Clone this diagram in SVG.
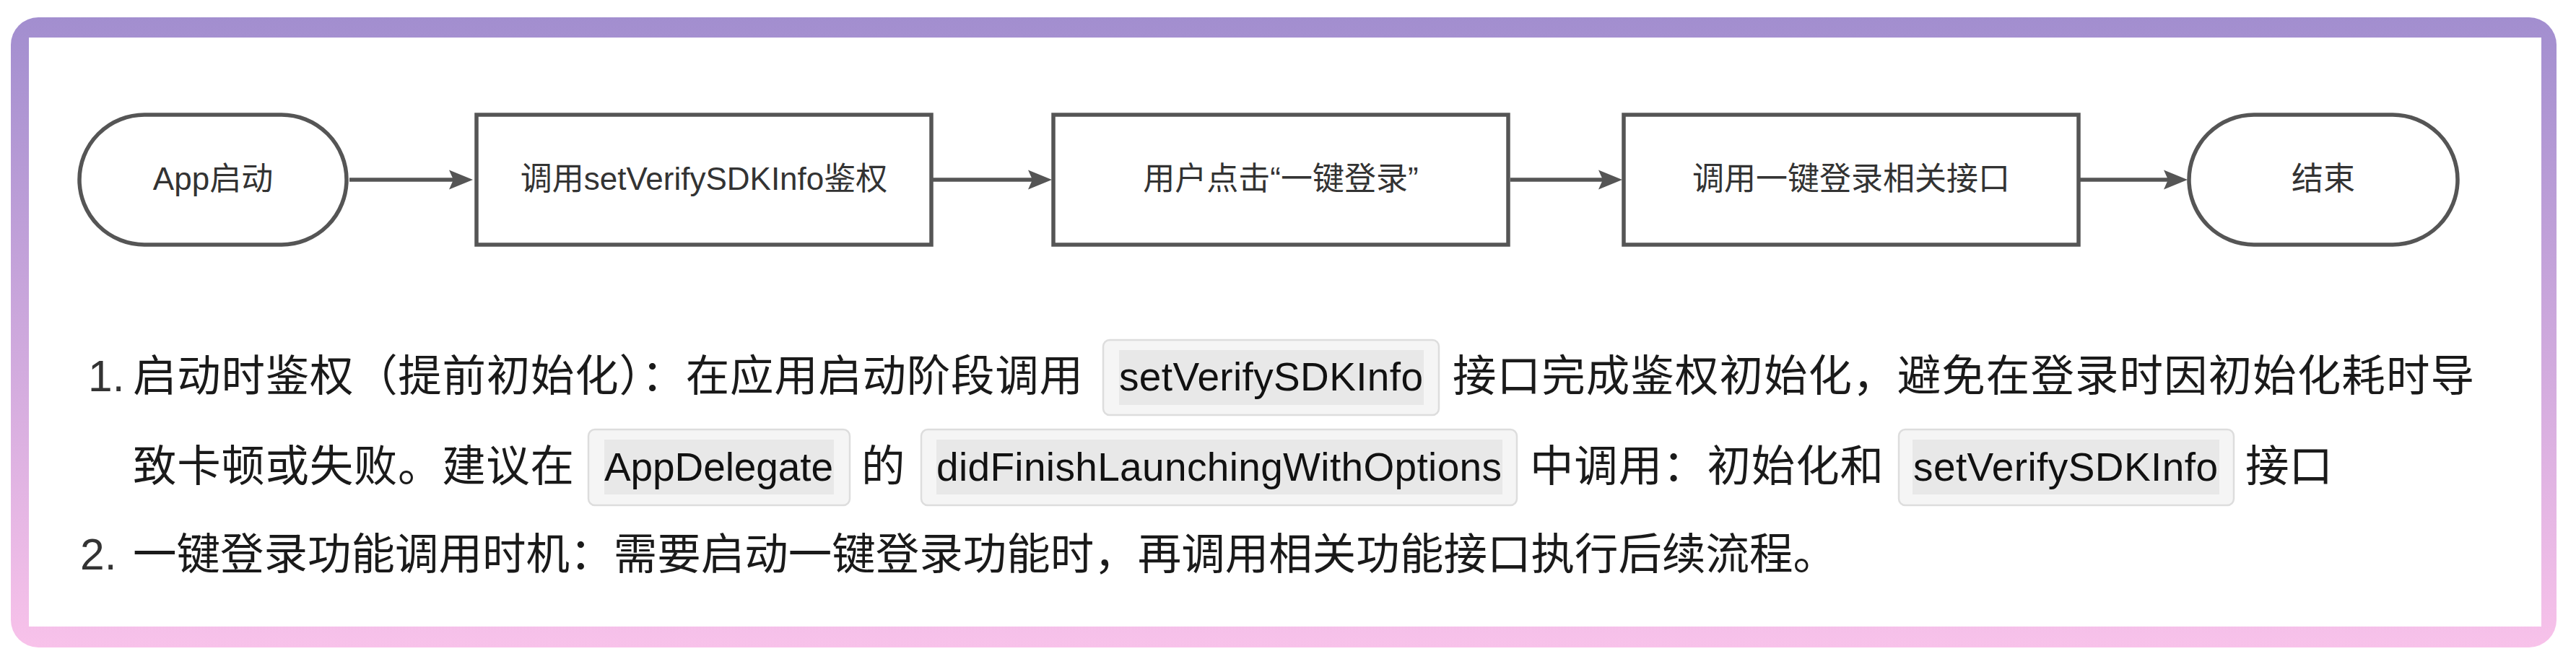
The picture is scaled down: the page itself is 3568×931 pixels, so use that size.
<svg xmlns="http://www.w3.org/2000/svg" width="3568" height="931" viewBox="0 0 3568 931">
  <style>
    .shape { fill: #ffffff; stroke: #555555; stroke-width: 5.5; }
    .lbl { font-family: "Liberation Sans", "Noto Sans CJK SC", sans-serif; font-size: 44px; fill: #333333; text-anchor: middle; }
    .conn { fill: none; stroke: #555555; stroke-width: 5.5; marker-end: url(#ah); }
    .para { font-family: "Liberation Sans", "Noto Sans CJK SC", sans-serif; font-size: 60.5px; fill: #1a1a1a; }
    .num { font-family: "Liberation Sans", "Noto Sans CJK SC", sans-serif; font-size: 60.5px; fill: #333333; }
    .codeOuter { fill: #f5f5f5; stroke: #dddddd; stroke-width: 2.5; }
    .codeInner { fill: #e8e8e8; }
    .code { font-family: "Liberation Sans", sans-serif; font-size: 55px; fill: #111111; }
  </style>
  <defs>
    <linearGradient id="frameGrad" x1="0" y1="0" x2="0" y2="1">
      <stop offset="0" stop-color="#A28ECF"/>
      <stop offset="1" stop-color="#F8C2EA"/>
    </linearGradient>
    <marker id="ah" markerUnits="userSpaceOnUse" markerWidth="34" markerHeight="28" refX="10" refY="13.5" orient="auto" overflow="visible">
      <path d="M0,0 L33,13.5 L0,27 L6,13.5 Z" fill="#555555"/>
    </marker>
  </defs>

  <rect x="0" y="0" width="3568" height="931" fill="#ffffff"/>

  <g id="frame">
    <rect x="15" y="24" width="3526" height="873" rx="38" ry="38" fill="url(#frameGrad)"/>
    <rect x="40" y="52" width="3480" height="816" fill="#ffffff"/>
  </g>

  <g id="connectors">
    <path class="conn" d="M484,249 H632"/>
    <path class="conn" d="M1292,249 H1434"/>
    <path class="conn" d="M2092,249 H2224"/>
    <path class="conn" d="M2881,249 H3007"/>
  </g>

  <g id="node-start">
    <rect class="shape" x="110" y="159" width="370" height="180" rx="90" ry="90"/>
    <text class="lbl" x="295" y="263">App启动</text>
  </g>
  <g id="node-auth">
    <rect class="shape" x="660" y="159" width="630" height="180"/>
    <text class="lbl" x="975" y="263">调用setVerifySDKInfo鉴权</text>
  </g>
  <g id="node-click">
    <rect class="shape" x="1459" y="159" width="630" height="180"/>
    <text class="lbl" x="1774" y="263">用户点击“一键登录”</text>
  </g>
  <g id="node-call">
    <rect class="shape" x="2249" y="159" width="630" height="180"/>
    <text class="lbl" x="2564" y="263">调用一键登录相关接口</text>
  </g>
  <g id="node-end">
    <rect class="shape" x="3032" y="159" width="372" height="180" rx="90" ry="90"/>
    <text class="lbl" x="3218" y="263">结束</text>
  </g>

  <g id="notes">
    <text class="num" x="122" y="542">1.</text>
    <text class="para" x="184" y="542" textLength="1316">启动时鉴权（提前初始化）：在应用启动阶段调用</text>
    <rect class="codeOuter" x="1528" y="471" width="465" height="104" rx="9"/>
    <rect class="codeInner" x="1550" y="485" width="422" height="76"/>
    <text class="code" x="1550" y="541" textLength="421">setVerifySDKInfo</text>
    <text class="para" x="2012" y="542" textLength="1415">接口完成鉴权初始化，避免在登录时因初始化耗时导</text>

    <text class="para" x="184" y="667" textLength="611">致卡顿或失败。建议在</text>
    <rect class="codeOuter" x="815" y="595" width="362" height="105" rx="9"/>
    <rect class="codeInner" x="837" y="609" width="318" height="76"/>
    <text class="code" x="837" y="666" textLength="317">AppDelegate</text>
    <text class="para" x="1193" y="667">的</text>
    <rect class="codeOuter" x="1276" y="595" width="825" height="105" rx="9"/>
    <rect class="codeInner" x="1297" y="609" width="784" height="76"/>
    <text class="code" x="1297" y="666" textLength="783">didFinishLaunchingWithOptions</text>
    <text class="para" x="2119" y="667" textLength="490">中调用：初始化和</text>
    <rect class="codeOuter" x="2630" y="595" width="464" height="105" rx="9"/>
    <rect class="codeInner" x="2649" y="609" width="425" height="76"/>
    <text class="code" x="2650" y="666" textLength="422">setVerifySDKInfo</text>
    <text class="para" x="3110" y="667">接口</text>

    <text class="num" x="111" y="789">2.</text>
    <text class="para" x="184" y="789" textLength="2360">一键登录功能调用时机：需要启动一键登录功能时，再调用相关功能接口执行后续流程。</text>
  </g>
</svg>
